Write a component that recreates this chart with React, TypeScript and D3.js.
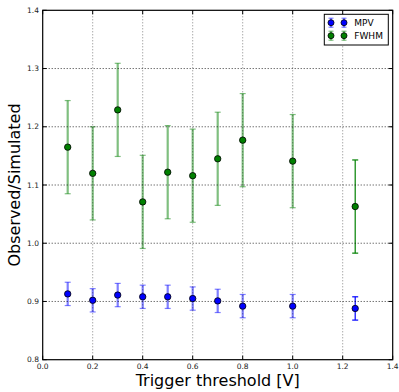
import React from "react";
import * as d3 from "d3";

const thresholds = [0.1, 0.2, 0.3, 0.4, 0.5, 0.6, 0.7, 0.8, 1.0, 1.25];
const mpvValues = [0.913, 0.902, 0.911, 0.908, 0.908, 0.905, 0.901, 0.892, 0.892, 0.888];
const mpvErrors = [0.02, 0.02, 0.02, 0.02, 0.02, 0.02, 0.02, 0.02, 0.02, 0.02];
const fwhmValues = [1.165, 1.12, 1.229, 1.071, 1.122, 1.116, 1.145, 1.177, 1.141, 1.063];
const fwhmErrors = [0.08, 0.08, 0.08, 0.08, 0.08, 0.08, 0.08, 0.08, 0.08, 0.08];
const xTicks = [0.0, 0.2, 0.4, 0.6, 0.8, 1.0, 1.2, 1.4];
const yTicks = [0.8, 0.9, 1.0, 1.1, 1.2, 1.3, 1.4];

const W = 399;
const H = 392;
const M = { left: 42.7, right: 392.7, top: 10.3, bottom: 359.7 };

export default function App() {
  const x = d3.scaleLinear().domain([0, 1.4]).range([M.left, M.right]);
  const y = d3.scaleLinear().domain([0.8, 1.4]).range([M.bottom, M.top]);
  const font = "DejaVu Sans, sans-serif";

  const series = [
    { name: "MPV", values: mpvValues, errors: mpvErrors, color: "#0000ff" },
    { name: "FWHM", values: fwhmValues, errors: fwhmErrors, color: "#008000" },
  ];

  const errBar = (cx: number, v: number, e: number, color: string, opaque: boolean, key: string) => {
    const y1 = y(v + e);
    const y2 = y(v - e);
    const op = opaque ? 1 : 0.5;
    const sw = opaque ? 1.2 : 2.2;
    return (
      <g key={key} stroke={color} strokeOpacity={op}>
        <line x1={cx} x2={cx} y1={y1} y2={y2} strokeWidth={sw} />
        <line x1={cx - 3} x2={cx + 3} y1={y1} y2={y1} strokeWidth={1.2} />
        <line x1={cx - 3} x2={cx + 3} y1={y2} y2={y2} strokeWidth={1.2} />
      </g>
    );
  };

  return (
    <svg width={W} height={H} style={{ position: "absolute", left: 0, top: 0, background: "#fff" }}>
      <rect x={0} y={0} width={W} height={H} fill="#fff" />
      {/* error bars */}
      {series.map((s) =>
        thresholds.map((t, i) =>
          errBar(x(t), s.values[i], s.errors[i], s.color, i === thresholds.length - 1, s.name + i)
        )
      )}
      {/* grid */}
      {xTicks.slice(1, -1).map((t) => (
        <line key={"gx" + t} x1={x(t)} x2={x(t)} y1={M.top} y2={M.bottom} stroke="#000" strokeWidth={0.8} strokeDasharray="1,2" strokeOpacity={0.6} />
      ))}
      {yTicks.slice(1, -1).map((t) => (
        <line key={"gy" + t} x1={M.left} x2={M.right} y1={y(t)} y2={y(t)} stroke="#000" strokeWidth={0.8} strokeDasharray="1,2" />
      ))}
      {/* markers */}
      {series.map((s) =>
        thresholds.map((t, i) => (
          <circle key={s.name + "m" + i} cx={x(t)} cy={y(s.values[i])} r={3.2} fill={s.color} stroke="#000" strokeWidth={0.8} />
        ))
      )}
      {/* frame */}
      <rect x={M.left} y={M.top} width={M.right - M.left} height={M.bottom - M.top} fill="none" stroke="#000" strokeWidth={1.2} />
      {/* ticks */}
      {xTicks.map((t) => (
        <g key={"tx" + t}>
          <line x1={x(t)} x2={x(t)} y1={M.bottom} y2={M.bottom - 4} stroke="#000" />
          <line x1={x(t)} x2={x(t)} y1={M.top} y2={M.top + 4} stroke="#000" />
          <text x={x(t)} y={368.5} fontSize={7.5} fontFamily={font} textAnchor="middle" fill="#222">
            {t.toFixed(1)}
          </text>
        </g>
      ))}
      {yTicks.map((t) => (
        <g key={"ty" + t}>
          <line x1={M.left} x2={M.left + 4} y1={y(t)} y2={y(t)} stroke="#000" />
          <line x1={M.right} x2={M.right - 4} y1={y(t)} y2={y(t)} stroke="#000" />
          <text x={39} y={y(t) + 2.7} fontSize={7.5} fontFamily={font} textAnchor="end" fill="#222">
            {t.toFixed(1)}
          </text>
        </g>
      ))}
      {/* axis labels */}
      <text x={(M.left + M.right) / 2} y={386} fontSize={16} fontFamily={font} textAnchor="middle" fill="#000">
        Trigger threshold [V]
      </text>
      <text transform={`translate(19.5, ${(M.top + M.bottom) / 2}) rotate(-90)`} fontSize={16} fontFamily={font} textAnchor="middle" fill="#000">
        Observed/Simulated
      </text>
      {/* legend */}
      <g>
        <rect x={324.3} y={14.3} width={64} height={30.7} fill="#fff" stroke="#000" strokeWidth={1} />
        {series.map((s, i) => {
          const ly = 22.7 + i * 13;
          return (
            <g key={"lg" + s.name}>
              {[331, 344].map((lx) => (
                <g key={lx}>
                  <g stroke={s.color} strokeOpacity={0.5}>
                    <line x1={lx} x2={lx} y1={ly - 4.5} y2={ly + 4.5} strokeWidth={2} />
                    <line x1={lx - 2.5} x2={lx + 2.5} y1={ly - 4.5} y2={ly - 4.5} strokeWidth={1.2} />
                    <line x1={lx - 2.5} x2={lx + 2.5} y1={ly + 4.5} y2={ly + 4.5} strokeWidth={1.2} />
                  </g>
                  <circle cx={lx} cy={ly} r={3} fill={s.color} stroke="#000" strokeWidth={0.8} />
                </g>
              ))}
              <text x={354.3} y={ly + 3.3} fontSize={9} fontFamily={font} fill="#000">
                {s.name}
              </text>
            </g>
          );
        })}
      </g>
    </svg>
  );
}
